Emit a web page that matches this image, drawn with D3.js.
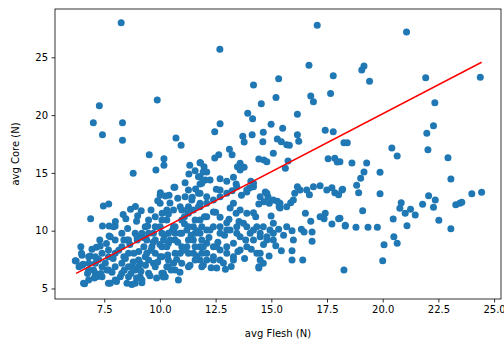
<!DOCTYPE html>
<html>
<head>
<meta charset="utf-8">
<script src="https://cdn.jsdelivr.net/npm/d3@7"></script>
<style>
  body { margin: 0; background: #fff; }
  svg { display: block; font-family: "DejaVu Sans", sans-serif; }
</style>
</head>
<body>
<div id="chart"></div>
<script>
// avg Flesh (N) values
const fleshValues = [
  21.07, 19.06, 19.16, 19.41, 21.93, 24.38, 22.34, 22.28, 21.98, 22.03, 22.93, 23.06, 20.41, 20.65, 18.26, 18.41,
  18.08, 18.62, 19.28, 19.16, 19.01, 18.83, 18.92, 18.17, 19.88, 19.88, 19.1, 18.08, 18.32, 18.8, 19.34, 19.76,
  20.47, 20.83, 20.77, 21.01, 21.25, 21.46, 21.09, 21.79, 22.06, 22.36, 22.28, 22.52, 23.06, 23.28, 23.46, 23.55,
  24.0, 24.44, 20.06, 20.5, 20.65, 20.0, 18.26,
  16.69, 17.78, 15.33, 14.2, 17.66, 15.21, 16.77, 16.89, 14.55, 13.94, 14.16, 16.17, 14.99, 12.7, 12.46, 15.51,
  14.64, 14.14, 13.72, 13.78, 14.62, 15.27, 15.45, 15.69, 15.81, 16.17, 16.23, 17.42, 17.78, 15.09, 13.12, 13.24,
  12.64, 12.46, 11.8, 11.98, 14.44, 14.67, 14.8, 15.75, 15.63, 13.6, 13.78, 13.48, 17.55, 17.85, 17.96, 12.1,
  12.04, 12.7, 13.0, 13.3, 11.8, 12.53, 14.08, 14.02, 13.9, 13.66, 14.2, 13.42, 13.24, 13.0, 12.7, 12.4,
  12.1, 11.8, 14.73, 14.85, 14.67, 14.44, 14.91, 15.27, 15.39, 16.17, 16.05, 15.87, 16.59, 16.71, 17.19, 17.72,
  17.85, 18.02, 18.2, 13.3, 13.15, 13.42, 13.6, 13.9, 14.2, 14.99, 15.35, 16.53, 16.77, 16.35, 17.42, 17.37,
  17.72, 18.02, 18.32, 15.93, 16.47, 16.83, 16.83,
  11.8, 12.1, 12.4, 12.7, 13.0, 12.4, 12.1, 11.8, 12.7, 13.15, 13.45, 13.75, 14.05, 14.35, 14.64, 14.94,
  15.33, 14.2, 14.5, 14.8, 15.09, 13.6, 13.3, 13.0, 12.7, 12.4, 12.1, 11.8, 11.8, 12.1, 12.4, 12.7,
  13.0, 13.3, 12.55, 12.94, 14.35, 14.5, 14.64, 14.44, 15.45, 15.93, 15.93, 16.41, 11.8, 11.8,
  7.28, 9.88, 7.01, 8.32, 7.42, 8.32, 10.72, 10.95, 9.52, 10.18, 10.18, 9.82, 8.8, 11.34, 11.82, 11.58,
  11.94, 10.63, 10.02, 10.41, 11.13, 11.28, 11.13, 11.43, 11.73, 11.88, 11.73, 7.46, 7.7, 6.89, 8.68, 9.16,
  9.79, 10.38, 10.98, 11.28, 8.47, 8.95, 9.34, 8.89, 8.38, 8.98, 9.28, 8.83, 8.38, 7.42, 7.72, 7.99,
  7.72, 7.15, 7.69, 6.2, 6.5, 6.8, 6.5, 6.8,
  7.1, 7.4, 7.69, 7.1, 6.8, 6.62, 7.4, 7.69, 7.99, 8.29, 7.99, 8.29, 8.59, 8.89, 8.59, 8.89,
  9.19, 8.74, 9.19, 9.49, 9.79, 9.49, 9.79, 10.09, 10.09, 10.38, 10.38, 10.68, 10.68, 10.98, 10.98, 11.28,
  11.28, 11.58, 11.88, 11.58, 11.88, 10.68, 10.38, 10.09, 9.79, 10.09, 10.38, 9.64, 9.34, 9.04, 8.59, 8.29,
  7.99, 7.69, 7.4, 7.1, 6.8, 9.04, 8.74, 10.24, 10.83, 11.28, 11.58, 11.88, 10.68,
  10.67, 10.25, 10.01, 10.31, 10.61, 10.91, 11.21, 11.5, 11.8, 12.1, 12.7, 13.6, 13.45, 13.9, 14.2, 14.5,
  14.8, 15.09, 15.39, 15.69, 15.99, 16.29, 16.89, 17.49, 17.19, 11.3, 12.25, 10.01,
  6.24, 6.48, 6.87, 6.37, 6.57, 7.17, 7.77, 7.32, 7.77, 7.02, 7.62, 8.22, 8.52, 9.11, 9.11, 9.41,
  9.71, 10.01, 10.16, 10.31, 9.41, 9.71, 8.97, 8.52, 7.92,
  10.16, 10.31, 10.61, 10.91, 11.21, 11.5, 11.5, 11.95, 12.1, 12.4, 12.55, 13.3, 13.6, 13.9, 14.5, 14.44,
  14.8, 15.09, 15.99,
  10.01, 10.31, 10.61, 10.46, 10.91, 11.21, 11.5, 12.25, 12.7, 13.0, 13.45, 13.9, 14.2, 14.5, 15.09, 15.69,
  9.79, 10.09, 9.49, 9.19, 9.49, 10.68, 10.98, 11.28, 11.58, 11.88, 10.98, 11.28, 11.73, 8.29, 8.59, 7.99,
  12.69, 17.06, 8.26,
  6.55, 6.75, 6.95, 7.05, 7.25, 7.35, 7.55, 7.6, 7.85, 7.9, 8.05, 8.15, 8.4, 8.45, 8.65, 8.7,
  8.8, 8.95, 9.05, 9.15, 9.25, 9.35, 9.55, 9.6, 9.7, 9.85, 9.9, 10.0, 10.15, 10.2, 10.35, 10.5,
  10.55, 10.75, 10.8, 10.9, 11.05, 11.1, 11.35, 11.4, 11.65, 11.7, 11.95, 12.0, 12.2, 12.3, 12.5, 12.6,
  12.85, 12.9, 13.1, 13.2, 13.5, 13.55, 13.8, 13.85, 14.1, 14.3, 14.65, 14.9, 15.2, 15.55, 8.0, 8.55,
  9.0, 9.45, 9.6, 10.1, 10.45, 10.8, 11.1, 11.45, 9.9, 8.9, 11.6, 7.3, 6.45, 8.35
];

// avg Core (N) values
const coreValues = [
  27.19, 23.9, 24.25, 22.92, 23.24, 23.27, 21.07, 19.08, 18.43, 17.01, 16.32, 14.47, 17.15, 16.46, 17.61, 17.61,
  15.97, 15.86, 15.86, 15.08, 14.53, 13.93, 13.29, 13.52, 15.05, 13.2, 11.73, 11.07, 10.41, 10.29, 10.29, 10.29,
  11.01, 12.42, 11.94, 11.5, 11.85, 11.36, 10.43, 12.28, 13.03, 12.66, 12.02, 10.9, 10.17, 12.25, 12.37, 12.46,
  13.2, 13.32, 8.79, 9.48, 8.91, 7.4, 6.6,
  24.31, 23.41, 23.15, 22.6, 21.88, 21.53, 21.65, 21.16, 20.99, 20.16, 19.69, 20.07, 19.2, 19.26, 18.56, 18.86,
  18.51, 18.31, 18.17, 17.67, 17.7, 17.93, 17.7, 17.44, 17.39, 18.31, 17.73, 18.69, 18.56, 16.71, 17.04, 16.57,
  16.57, 16.29, 15.88, 15.54, 16.2, 16.12, 15.97, 16.03, 15.4, 15.83, 15.48, 15.54, 16.23, 16.26, 15.94, 15.08,
  14.39, 14.5, 14.27, 14.62, 14.04, 13.58, 14.27, 13.69, 13.35, 13.06, 13.81, 14.04, 13.46, 13.24, 12.94, 12.66,
  12.37, 12.08, 13.35, 12.94, 12.51, 12.31, 12.37, 12.54, 11.96, 13.81, 13.24, 12.42, 13.52, 13.11, 13.89, 13.72,
  13.29, 13.11, 13.58, 12.37, 11.96, 11.51, 11.79, 11.5, 11.56, 11.27, 12.08, 11.5, 10.81, 10.12, 11.5, 11.04,
  10.58, 11.04, 10.47, 10.0, 9.89, 9.89, 9.08,
  10.93, 11.21, 11.62, 11.16, 10.69, 10.35, 10.06, 9.78, 9.78, 10.06, 10.35, 10.64, 9.78, 10.35, 10.35, 10.06,
  10.12, 9.2, 9.48, 9.2, 9.2, 9.48, 8.91, 8.62, 8.33, 8.62, 8.91, 8.62, 7.47, 7.47, 7.47, 7.47,
  8.05, 7.75, 6.77, 6.66, 8.05, 7.47, 7.18, 6.77, 8.27, 8.27, 7.47, 7.47, 13.24, 14.67,
  20.81, 21.31, 19.34, 19.34, 18.3, 17.82, 18.02, 17.39, 16.57, 16.23, 15.66, 15.25, 14.97, 15.66, 15.88, 15.19,
  15.08, 13.75, 13.29, 13.06, 14.15, 13.52, 12.94, 12.66, 13.24, 14.1, 14.67, 12.14, 12.31, 11.04, 11.85, 11.73,
  11.21, 11.44, 11.79, 12.08, 11.04, 10.81, 10.35, 9.78, 9.2, 9.2, 8.62, 8.05, 7.75, 10.41, 10.41, 10.41,
  9.54, 8.56, 8.33, 7.4, 7.87, 7.75, 7.01, 6.6,
  7.18, 6.89, 6.6, 6.31, 5.74, 5.4, 6.02, 5.45, 5.74, 6.31, 6.89, 7.18, 6.89, 6.6, 6.02, 5.45,
  5.74, 5.35, 5.5, 6.31, 6.89, 7.47, 8.05, 7.75, 6.31, 6.89, 7.47, 8.05, 6.6, 7.18, 8.62, 8.05,
  9.2, 8.62, 8.05, 9.78, 9.2, 9.2, 8.91, 8.62, 9.2, 9.78, 9.78, 8.62, 7.75, 7.47, 8.05, 8.62,
  8.05, 7.75, 8.05, 7.75, 7.18, 6.89, 6.89, 6.02, 5.74, 6.89, 7.47, 6.89, 9.78,
  13.75, 13.0, 12.37, 11.79, 11.79, 12.08, 11.79, 11.79, 12.37, 12.94, 13.52, 15.25, 13.81, 13.52, 14.1, 12.94,
  13.24, 12.66, 12.37, 12.08, 12.66, 13.52, 13.81, 13.52, 11.21, 14.9, 14.39, 13.06,
  7.38, 8.05, 7.81, 6.89, 5.45, 6.02, 5.45, 8.68, 9.48, 6.6, 6.6, 6.02, 5.45, 6.02, 7.18, 8.05,
  7.18, 7.75, 9.2, 8.62, 9.2, 9.78, 9.48, 9.2, 10.35,
  6.31, 6.89, 7.18, 8.05, 8.62, 9.2, 8.05, 7.03, 8.05, 7.75, 8.62, 7.47, 8.33, 8.62, 8.05, 6.89,
  9.48, 9.78, 9.2,
  10.35, 10.93, 10.35, 9.2, 9.78, 10.06, 10.35, 10.06, 10.35, 10.06, 9.78, 10.35, 10.06, 9.78, 10.64, 10.35,
  10.35, 10.93, 9.78, 9.78, 10.93, 10.35, 9.78, 10.35, 10.93, 10.35, 10.93, 11.5, 12.08, 9.78, 9.2, 9.2,
  25.69, 27.77, 28.0,
  7.1, 6.3, 8.4, 5.9, 7.5, 6.3, 7.2, 8.9, 6.4, 7.6, 5.6, 8.3, 6.6, 7.6, 8.8, 6.3,
  7.3, 5.9, 8.2, 6.5, 9.4, 7.0, 6.1, 8.3, 9.0, 5.9, 7.3, 8.8, 6.0, 9.6, 7.9, 6.6,
  10.0, 7.5, 9.0, 6.4, 8.3, 10.6, 7.0, 9.6, 7.8, 10.0, 8.6, 11.2, 9.4, 6.8, 11.6, 9.0,
  7.2, 9.6, 11.0, 6.9, 8.2, 10.8, 7.6, 9.2, 8.4, 11.2, 8.8, 7.8, 8.7, 9.6, 10.8, 10.2,
  11.3, 10.4, 11.8, 11.5, 12.4, 12.8, 11.2, 12.9, 12.6, 12.1, 13.6, 9.2, 8.6, 11.4
];

// fitted line endpoints
const fitX = [6.24, 24.44];
const fitY = [6.31, 24.57];

const xTicks = [7.5, 10.0, 12.5, 15.0, 17.5, 20.0, 22.5, 25.0];
const yTicks = [5, 10, 15, 20, 25];

const width = 504;
const height = 345;
const margin = { top: 9, right: 3, bottom: 46, left: 55 };

const svg = d3.select('#chart').append('svg').attr('width', width).attr('height', height);

const x = d3.scaleLinear().domain([5.29, 25.31]).range([margin.left, width - margin.right]);
const y = d3.scaleLinear().domain([4.09, 29.18]).range([height - margin.bottom, margin.top]);

const points = fleshValues.map((v, i) => ({ x: v, y: coreValues[i] }));

// scatter
svg
  .append('g')
  .selectAll('circle')
  .data(points)
  .enter()
  .append('circle')
  .attr('cx', (d) => x(d.x))
  .attr('cy', (d) => y(d.y))
  .attr('r', 3.5)
  .attr('fill', '#1f77b4');

// regression line
const line = d3
  .line()
  .x((d) => x(d[0]))
  .y((d) => y(d[1]));
svg
  .append('path')
  .datum(fitX.map((v, i) => [v, fitY[i]]))
  .attr('d', line)
  .attr('fill', 'none')
  .attr('stroke', '#ff0000')
  .attr('stroke-width', 1.5);

// axes
const xAxis = svg
  .append('g')
  .attr('transform', `translate(0,${height - margin.bottom})`)
  .call(d3.axisBottom(x).tickValues(xTicks).tickFormat(d3.format('.1f')).tickSize(3.5).tickPadding(3.5));
const yAxis = svg
  .append('g')
  .attr('transform', `translate(${margin.left},0)`)
  .call(d3.axisLeft(y).tickValues(yTicks).tickSize(3.5).tickPadding(3.5));

[xAxis, yAxis].forEach((g) => {
  g.select('.domain').remove();
  g.selectAll('line').attr('stroke', '#000').attr('stroke-width', 0.8);
  g.selectAll('text').attr('fill', '#000').attr('font-size', '10px').attr('font-family', 'DejaVu Sans');
});

// frame
svg
  .append('rect')
  .attr('x', margin.left)
  .attr('y', margin.top)
  .attr('width', width - margin.left - margin.right)
  .attr('height', height - margin.top - margin.bottom)
  .attr('fill', 'none')
  .attr('stroke', '#000')
  .attr('stroke-width', 0.8);

// axis labels
svg
  .append('text')
  .attr('x', (margin.left + width - margin.right) / 2)
  .attr('y', 337)
  .attr('text-anchor', 'middle')
  .attr('font-size', '10px')
  .attr('fill', '#000')
  .text('avg Flesh (N)');

svg
  .append('text')
  .attr('transform', `translate(19,${(margin.top + height - margin.bottom) / 2}) rotate(-90)`)
  .attr('text-anchor', 'middle')
  .attr('font-size', '10px')
  .attr('fill', '#000')
  .text('avg Core (N)');
</script>
</body>
</html>
